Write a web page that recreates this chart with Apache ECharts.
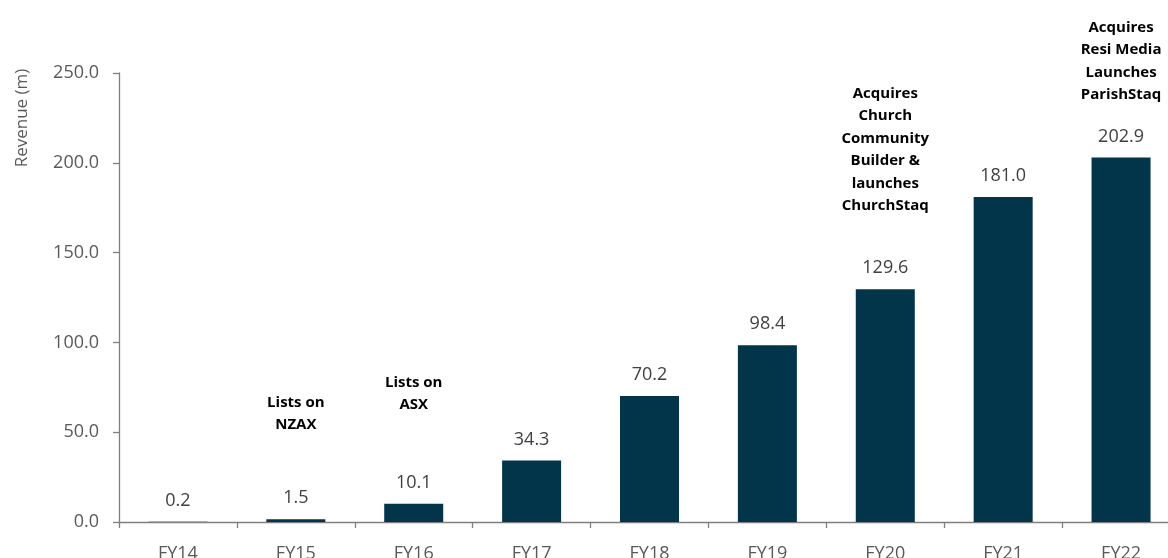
<!DOCTYPE html>
<html><head><meta charset="utf-8">
<script src="https://cdn.jsdelivr.net/npm/echarts@6/dist/echarts.min.js"></script>
<style>html,body{margin:0;padding:0;background:#fff}#c{width:1168px;height:558px}</style>
</head><body><div id="c"></div>
<script>
const categories = ['FY14','FY15','FY16','FY17','FY18','FY19','FY20','FY21','FY22'];
const revenue = [0.2, 1.5, 10.1, 34.3, 70.2, 98.4, 129.6, 181.0, 202.9];
const annotations = ['', 'Lists on\nNZAX', 'Lists on\nASX', '', '', '', 'Acquires\nChurch\nCommunity\nBuilder &\nlaunches\nChurchStaq', '', 'Acquires\nResi Media\nLaunches\nParishStaq'];
const yTicks = [0, 50, 100, 150, 200, 250];
const yAxisTitle = 'Revenue (m)';
// layout: pixel y of the top of each annotation block
const annotationTop = [0, 391, 371, 0, 0, 0, 82, 0, 16];

const FONT = '"Open Sans", "Noto Sans", sans-serif';
const chart = echarts.init(document.getElementById('c'));
chart.setOption({
  animation: false,
  grid: {left: 119, right: -12, top: 73, bottom: 36, containLabel: false, outerBoundsMode: 'none'},
  xAxis: {
    type: 'category', data: categories,
    axisLine: {lineStyle: {color: '#7f7f7f', width: 1.3}},
    axisTick: {show: true, alignWithLabel: false, length: 6, lineStyle: {color: '#7f7f7f', width: 1.3}},
    axisLabel: {color: '#595959', fontSize: 18, fontFamily: FONT, margin: 23}
  },
  yAxis: {
    type: 'value', min: yTicks[0], max: yTicks[yTicks.length-1], interval: 50,
    axisLine: {show: true, lineStyle: {color: '#7f7f7f', width: 1.3}},
    axisTick: {show: true, length: 6, lineStyle: {color: '#7f7f7f', width: 1.3}},
    splitLine: {show: false},
    axisLabel: {color: '#595959', fontSize: 18, fontFamily: FONT, margin: 20,
      formatter: v => v.toFixed(1)}
  },
  series: [{
    type: 'bar', data: revenue, barWidth: 59,
    itemStyle: {color: '#02344a'},
    label: {show: true, position: 'top', distance: 12, color: '#404040', fontSize: 18, fontFamily: FONT,
      formatter: p => p.value.toFixed(1)}
  }]
});

const graphics = [{
  type: 'text', x: 22, y: 118, rotation: Math.PI/2,
  style: {text: yAxisTitle, fill: '#595959', font: '17px ' + FONT, align: 'center', verticalAlign: 'middle'}
}];
annotations.forEach((t, i) => {
  if (!t) return;
  const x = chart.convertToPixel({xAxisIndex: 0}, categories[i]);
  graphics.push({
    type: 'text', x: x, y: annotationTop[i],
    style: {text: t, fill: '#000', font: 'bold 15px ' + FONT, align: 'center', verticalAlign: 'top', lineHeight: 22.5}
  });
});
chart.setOption({graphic: graphics});
</script>
</body></html>
